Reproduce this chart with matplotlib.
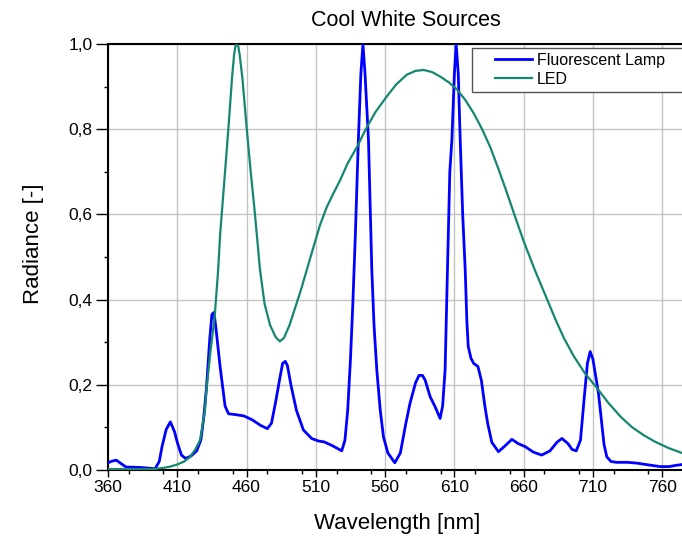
import matplotlib
matplotlib.use('Agg')
import matplotlib.pyplot as plt
from matplotlib.ticker import MultipleLocator, FuncFormatter
from matplotlib.patches import Rectangle

plt.rcParams['font.family'] = ['Liberation Sans', 'DejaVu Sans']

# Fluorescent lamp spectrum
fl_nm = [360, 363, 366, 369, 373, 383, 394, 397, 399, 402, 405, 408, 410, 413, 416, 420,
         424, 427, 429, 431, 433.5, 435, 436.5, 438, 441, 444.5, 447, 452, 458, 464, 470,
         475, 478, 481, 484, 486, 488, 489.5, 492, 496, 501, 507, 512, 516, 522, 528.7,
         531, 533, 535, 536.7, 538.5, 540.7, 542.5, 544, 545.5, 548, 550.4, 552, 554,
         556.5, 558.8, 562, 567, 571, 575, 578, 582, 584.5, 587, 589, 592.5, 596, 599.7,
         601.5, 603.3, 605, 606.7, 608.2, 610, 611.3, 612.8, 614.2, 616, 617.8, 619, 620,
         622, 624, 627, 629.5, 632, 634, 637, 641.8, 646, 651.5, 656, 661, 667, 673, 679,
         684, 687.6, 692, 695, 698, 701, 704, 706, 708, 710, 712, 714, 716, 718, 720, 723,
         727, 735, 742, 750, 758.6, 765, 770, 775]
fl_val = [0.017, 0.021, 0.023, 0.016, 0.007, 0.006, 0.003, 0.02, 0.055, 0.095, 0.113,
          0.09, 0.065, 0.035, 0.027, 0.033, 0.045, 0.07, 0.12, 0.19, 0.31, 0.365, 0.37,
          0.33, 0.24, 0.15, 0.132, 0.13, 0.127, 0.118, 0.105, 0.097, 0.11, 0.16, 0.215,
          0.25, 0.255, 0.245, 0.2, 0.14, 0.094, 0.074, 0.068, 0.066, 0.057, 0.045, 0.07,
          0.14, 0.26, 0.39, 0.55, 0.775, 0.93, 1.0, 0.93, 0.775, 0.47, 0.34, 0.235, 0.14,
          0.078, 0.04, 0.017, 0.04, 0.11, 0.157, 0.205, 0.222, 0.222, 0.21, 0.172, 0.149,
          0.121, 0.15, 0.235, 0.47, 0.7, 0.775, 0.93, 1.0, 0.93, 0.775, 0.6, 0.47, 0.35,
          0.29, 0.262, 0.25, 0.243, 0.21, 0.15, 0.11, 0.065, 0.043, 0.055, 0.072, 0.062,
          0.055, 0.042, 0.035, 0.045, 0.065, 0.074, 0.062, 0.048, 0.045, 0.07, 0.18, 0.25,
          0.278, 0.26, 0.22, 0.18, 0.12, 0.06, 0.031, 0.02, 0.018, 0.018, 0.016, 0.012,
          0.008, 0.008, 0.011, 0.013]

# LED spectrum
led_nm = [360, 370, 380, 390, 395, 400, 405, 410, 415, 419, 423, 426.4, 428, 430, 431,
          434, 437, 439.5, 441, 444, 447, 449.5, 451, 452, 453, 454, 455, 457, 460, 463,
          466, 469.7, 473, 477, 481, 484, 487, 491, 495, 499, 503.5, 508, 513, 518, 522,
          527.5, 533, 540, 546, 553, 561, 568, 575.7, 582, 588, 594, 600, 606, 612, 618,
          624, 630, 636, 642, 648, 654, 660, 668, 677, 683, 689, 696, 704, 713, 721, 730,
          738, 746.5, 755, 765, 775]
led_val = [0.002, 0.002, 0.002, 0.002, 0.003, 0.005, 0.008, 0.013, 0.02, 0.03, 0.048,
           0.07, 0.1, 0.14, 0.188, 0.28, 0.36, 0.47, 0.556, 0.68, 0.806, 0.92, 0.975,
           0.995, 1.0, 0.995, 0.975, 0.92, 0.806, 0.7, 0.603, 0.47, 0.39, 0.34, 0.312,
           0.302, 0.31, 0.34, 0.38, 0.42, 0.47, 0.52, 0.575, 0.618, 0.645, 0.68, 0.72,
           0.76, 0.8, 0.84, 0.876, 0.905, 0.928, 0.937, 0.939, 0.934, 0.923, 0.91, 0.893,
           0.868, 0.837, 0.8, 0.757, 0.705, 0.65, 0.593, 0.537, 0.47, 0.4, 0.353, 0.31,
           0.268, 0.228, 0.192, 0.158, 0.125, 0.101, 0.082, 0.066, 0.051, 0.039]

W, H = 682, 542
fig = plt.figure(figsize=(W / 100, H / 100), dpi=100)
ax = fig.add_axes([108 / W, 72 / H, 575 / W, 426 / H])

ax.plot(fl_nm, fl_val, color='#0000ff', lw=2.0, label='Fluorescent Lamp', zorder=3)
ax.plot(led_nm, led_val, color='#15876f', lw=1.6, label='LED', zorder=3)

ax.set_xlim(360, 775)
ax.set_ylim(0, 1.0)
ax.xaxis.set_minor_locator(MultipleLocator(25))
ax.yaxis.set_major_locator(MultipleLocator(0.2))
ax.yaxis.set_minor_locator(MultipleLocator(0.1))
ax.set_xticks(range(360, 775, 50))
ax.yaxis.set_major_formatter(FuncFormatter(lambda v, p: f'{v:.1f}'.replace('.', ',')))
ax.grid(True, which='major', color='#c4c4c4', lw=1.0, zorder=0)

ax.tick_params(axis='both', which='major', direction='out', labelsize=12.5, width=1.0)
ax.tick_params(axis='both', which='minor', direction='out', length=3, width=1.0)
ax.tick_params(axis='x', which='major', length=5, pad=2)
ax.tick_params(axis='y', which='major', length=9, pad=2)

for side in ['left', 'bottom', 'top']:
    ax.spines[side].set_linewidth(1.5)
ax.spines['right'].set_visible(False)

fig.text(406 / W, 1 - 21 / H, 'Cool White Sources', ha='center', va='center', fontsize=15.5)
fig.text(397 / W, 1 - 523 / H, 'Wavelength [nm]', ha='center', va='center', fontsize=16)
fig.text(33 / W, 1 - 244 / H, 'Radiance [-]', ha='center', va='center', rotation=90, fontsize=16)

# legend box drawn separately so it can run off the right edge like the original
fig.add_artist(Rectangle((472 / W, 1 - 92 / H), 240 / W, 44 / H, transform=fig.transFigure,
                         facecolor='white', edgecolor='#555555', lw=1.0, zorder=5))
leg = fig.legend(loc='upper left', bbox_to_anchor=(495 / W, 1 - 53 / H), frameon=False,
                 fontsize=11.5, handlelength=2.3, handletextpad=0.3, labelspacing=0.25,
                 borderpad=0, borderaxespad=0)
leg.set_zorder(6)

fig.savefig('out.png', dpi=100)
